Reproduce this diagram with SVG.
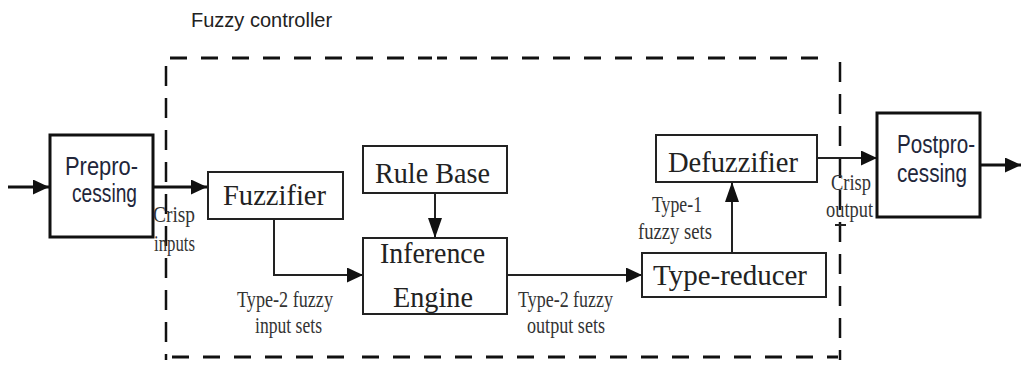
<svg xmlns="http://www.w3.org/2000/svg" width="1021" height="367" viewBox="0 0 1021 367">
<style>
.bg{fill:#fff}
.box{fill:#fff;stroke:#222;stroke-width:2}
.tbox{fill:#fff;stroke:#111;stroke-width:3}
.big{font-family:"Liberation Serif",serif;font-size:30px;fill:#222;text-anchor:middle}
.sm{font-family:"Liberation Serif",serif;font-size:23px;fill:#333;text-anchor:middle}
.sans{font-family:"Liberation Sans",Arial,sans-serif;font-size:25px;fill:#22263a;text-anchor:middle}
.title{font-family:"Liberation Sans",Arial,sans-serif;font-size:20px;fill:#222}
.c{fill:none;stroke:#222;stroke-width:2}
.ct{fill:none;stroke:#111;stroke-width:3}
.dh{fill:none;stroke:#111;stroke-width:3;stroke-dasharray:17 14}
.dv{fill:none;stroke:#111;stroke-width:2.5;stroke-dasharray:20 12}
</style>
<defs>
<marker id="ah" markerUnits="userSpaceOnUse" markerWidth="16" markerHeight="15" refX="16" refY="7.5" orient="auto">
<path d="M0,0 L16,7.5 L0,15 z" fill="#111"/>
</marker>
<marker id="av" markerUnits="userSpaceOnUse" markerWidth="20" markerHeight="14" refX="20" refY="7" orient="auto">
<path d="M0,0 L20,7 L0,14 z" fill="#111"/>
</marker>
</defs>
<rect class="bg" width="1021" height="367"/>

<g id="controller-frame">
<text class="title" x="191" y="27">Fuzzy controller</text>
<path class="dh" d="M170,58 H432"/>
<path class="dh" d="M437,58 H820" style="stroke-dasharray:10 13 17 14 17 14 17 14 17 14 17 14 17 14 17 14 17 14 17 14 17 14 17 14 17 14 17 14"/>
<path class="dh" d="M172,357 H355"/>
<path class="dh" d="M362,357 H838"/>
<path class="dv" d="M166,66 V360"/>
<path class="dv" d="M840,62 V360"/>
<path class="c" d="M835,225 H846"/>
</g>

<g id="connectors">
<path class="ct" d="M8,187 H49" marker-end="url(#ah)"/>
<path class="ct" d="M153,187 H207" marker-end="url(#ah)"/>
<path class="c" d="M274,219 V275 H363" marker-end="url(#ah)"/>
<path class="c" d="M435,193 V238" marker-end="url(#av)"/>
<path class="c" d="M507,275 H642" marker-end="url(#ah)"/>
<path class="c" d="M732,253 V182" marker-end="url(#av)"/>
<path class="c" d="M817,158 H877" marker-end="url(#ah)"/>
<path class="ct" d="M980,165 H1021" marker-end="url(#ah)"/>
</g>

<g id="preprocessing">
<rect class="tbox" x="50" y="135" width="103" height="102"/>
<text class="sans" x="101.5" y="175" textLength="73" lengthAdjust="spacingAndGlyphs">Prepro-</text>
<text class="sans" x="104.5" y="202" textLength="65" lengthAdjust="spacingAndGlyphs">cessing</text>
</g>

<g id="fuzzifier">
<rect class="box" x="208" y="172" width="135" height="47"/>
<text class="big" x="274.5" y="205" textLength="103" lengthAdjust="spacingAndGlyphs">Fuzzifier</text>
</g>

<g id="rule-base">
<rect class="box" x="363" y="146" width="144" height="47"/>
<text class="big" x="432.5" y="183" textLength="115" lengthAdjust="spacingAndGlyphs">Rule Base</text>
</g>

<g id="inference-engine">
<rect class="box" x="363" y="238" width="144" height="76"/>
<text class="big" x="432.5" y="263" textLength="105" lengthAdjust="spacingAndGlyphs">Inference</text>
<text class="big" x="433" y="307" textLength="80" lengthAdjust="spacingAndGlyphs">Engine</text>
</g>

<g id="type-reducer">
<rect class="box" x="642" y="253" width="184" height="44"/>
<text class="big" x="730" y="285" textLength="154" lengthAdjust="spacingAndGlyphs">Type-reducer</text>
</g>

<g id="defuzzifier">
<rect class="box" x="656" y="135" width="161" height="47"/>
<text class="big" x="733" y="172" textLength="130" lengthAdjust="spacingAndGlyphs">Defuzzifier</text>
</g>

<g id="postprocessing">
<rect class="tbox" x="877" y="113" width="103" height="104"/>
<text class="sans" x="936" y="153" textLength="78" lengthAdjust="spacingAndGlyphs">Postpro-</text>
<text class="sans" x="932" y="182" textLength="70" lengthAdjust="spacingAndGlyphs">cessing</text>
</g>

<g id="labels">
<text class="sm" x="174" y="222" textLength="42" lengthAdjust="spacingAndGlyphs">Crisp</text>
<text class="sm" x="174.5" y="251" textLength="41" lengthAdjust="spacingAndGlyphs">inputs</text>
<text class="sm" x="285" y="307" textLength="96" lengthAdjust="spacingAndGlyphs">Type-2 fuzzy</text>
<text class="sm" x="288.5" y="333" textLength="67" lengthAdjust="spacingAndGlyphs">input sets</text>
<text class="sm" x="565.5" y="307" textLength="95" lengthAdjust="spacingAndGlyphs">Type-2 fuzzy</text>
<text class="sm" x="566" y="333" textLength="78" lengthAdjust="spacingAndGlyphs">output sets</text>
<text class="sm" x="677" y="212" textLength="50" lengthAdjust="spacingAndGlyphs">Type-1</text>
<text class="sm" x="675" y="239" textLength="74" lengthAdjust="spacingAndGlyphs">fuzzy sets</text>
<text class="sm" x="851" y="190" textLength="40" lengthAdjust="spacingAndGlyphs">Crisp</text>
<text class="sm" x="849.5" y="217" textLength="47" lengthAdjust="spacingAndGlyphs">output</text>
</g>
</svg>
